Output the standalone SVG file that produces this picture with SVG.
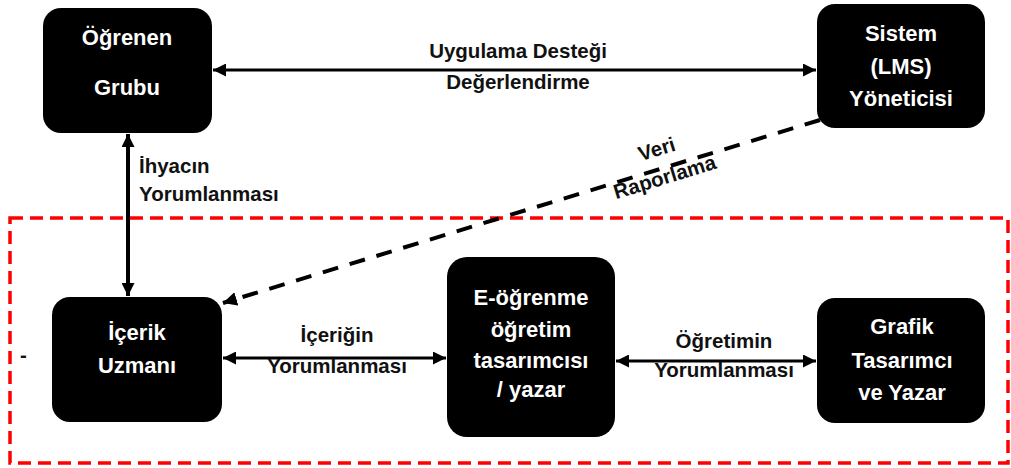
<svg xmlns="http://www.w3.org/2000/svg" width="1011" height="468" viewBox="0 0 1011 468">
<style>
.node rect{fill:#000;}
.nt{font-family:"Liberation Sans",Arial,sans-serif;font-weight:700;font-size:22px;fill:#fff;text-anchor:middle;}
.lb{font-family:"Liberation Sans",Arial,sans-serif;font-weight:700;font-size:20.5px;fill:#111;}
.c{text-anchor:middle;}
.ln{stroke:#000;stroke-width:3;fill:none;}
</style>
<defs>
<marker id="ah" viewBox="0 0 12 12" refX="12" refY="6" markerWidth="13" markerHeight="13" markerUnits="userSpaceOnUse" orient="auto-start-reverse"><path d="M0,0 L12,6 L0,12 z" fill="#000"/></marker>
<marker id="ahd" viewBox="0 0 12 12" refX="12" refY="6" markerWidth="14" markerHeight="14" markerUnits="userSpaceOnUse" orient="auto"><path d="M0,0 L12,6 L0,12 z" fill="#000"/></marker>
</defs>
<rect x="10" y="218" width="998" height="245" fill="none" stroke="#f00" stroke-width="3.5" stroke-dasharray="13 7"/>
<g id="connectors">
<line class="ln" x1="213" y1="70" x2="816" y2="70" marker-start="url(#ah)" marker-end="url(#ah)"/>
<line class="ln" style="stroke-width:4" x1="128" y1="134" x2="128" y2="296" marker-start="url(#ah)" marker-end="url(#ah)"/>
<line class="ln" x1="223" y1="358" x2="446" y2="358" marker-start="url(#ah)" marker-end="url(#ah)"/>
<line class="ln" x1="616" y1="361" x2="816" y2="361" marker-start="url(#ah)" marker-end="url(#ah)"/>
<line class="ln" style="stroke-width:4;stroke-dasharray:16 12" x1="820" y1="120" x2="223" y2="303" marker-end="url(#ahd)"/>
<text class="lb c" x="518" y="58">Uygulama Desteği</text>
<text class="lb c" x="518" y="89">Değerlendirme</text>
<text class="lb" x="139" y="173">İhyacın</text>
<text class="lb" x="139" y="201">Yorumlanması</text>
<text class="lb c" x="337" y="342">İçeriğin</text>
<text class="lb c" x="337" y="373">Yorumlanması</text>
<text class="lb c" x="724" y="348">Öğretimin</text>
<text class="lb c" x="724" y="377">Yorumlanması</text>
<text class="lb c" x="657" y="156" transform="rotate(-17 657 150)">Veri</text>
<text class="lb c" x="665" y="184" transform="rotate(-17 665 178)">Raporlama</text>
<text class="lb" x="20" y="362">-</text>
</g>
<g id="ogrenen" class="node"><rect x="43" y="8" width="169" height="125" rx="18"/><text class="nt" x="127" y="45">Öğrenen</text><text class="nt" x="127" y="95">Grubu</text></g>
<g id="sistem" class="node"><rect x="817" y="4" width="168" height="124" rx="18"/><text class="nt" x="901" y="41">Sistem</text><text class="nt" x="901" y="74">(LMS)</text><text class="nt" x="901" y="106">Yöneticisi</text></g>
<g id="icerik" class="node"><rect x="52" y="297" width="170" height="125" rx="18"/><text class="nt" x="137" y="340">İçerik</text><text class="nt" x="137" y="373">Uzmanı</text></g>
<g id="eogrenme" class="node"><rect x="447" y="257" width="168" height="180" rx="20"/><text class="nt" x="531" y="305">E-öğrenme</text><text class="nt" x="531" y="337">öğretim</text><text class="nt" x="531" y="368">tasarımcısı</text><text class="nt" x="531" y="397">/ yazar</text></g>
<g id="grafik" class="node"><rect x="817" y="298" width="168" height="125" rx="18"/><text class="nt" x="902" y="334">Grafik</text><text class="nt" x="902" y="368">Tasarımcı</text><text class="nt" x="902" y="400">ve Yazar</text></g>
</svg>
